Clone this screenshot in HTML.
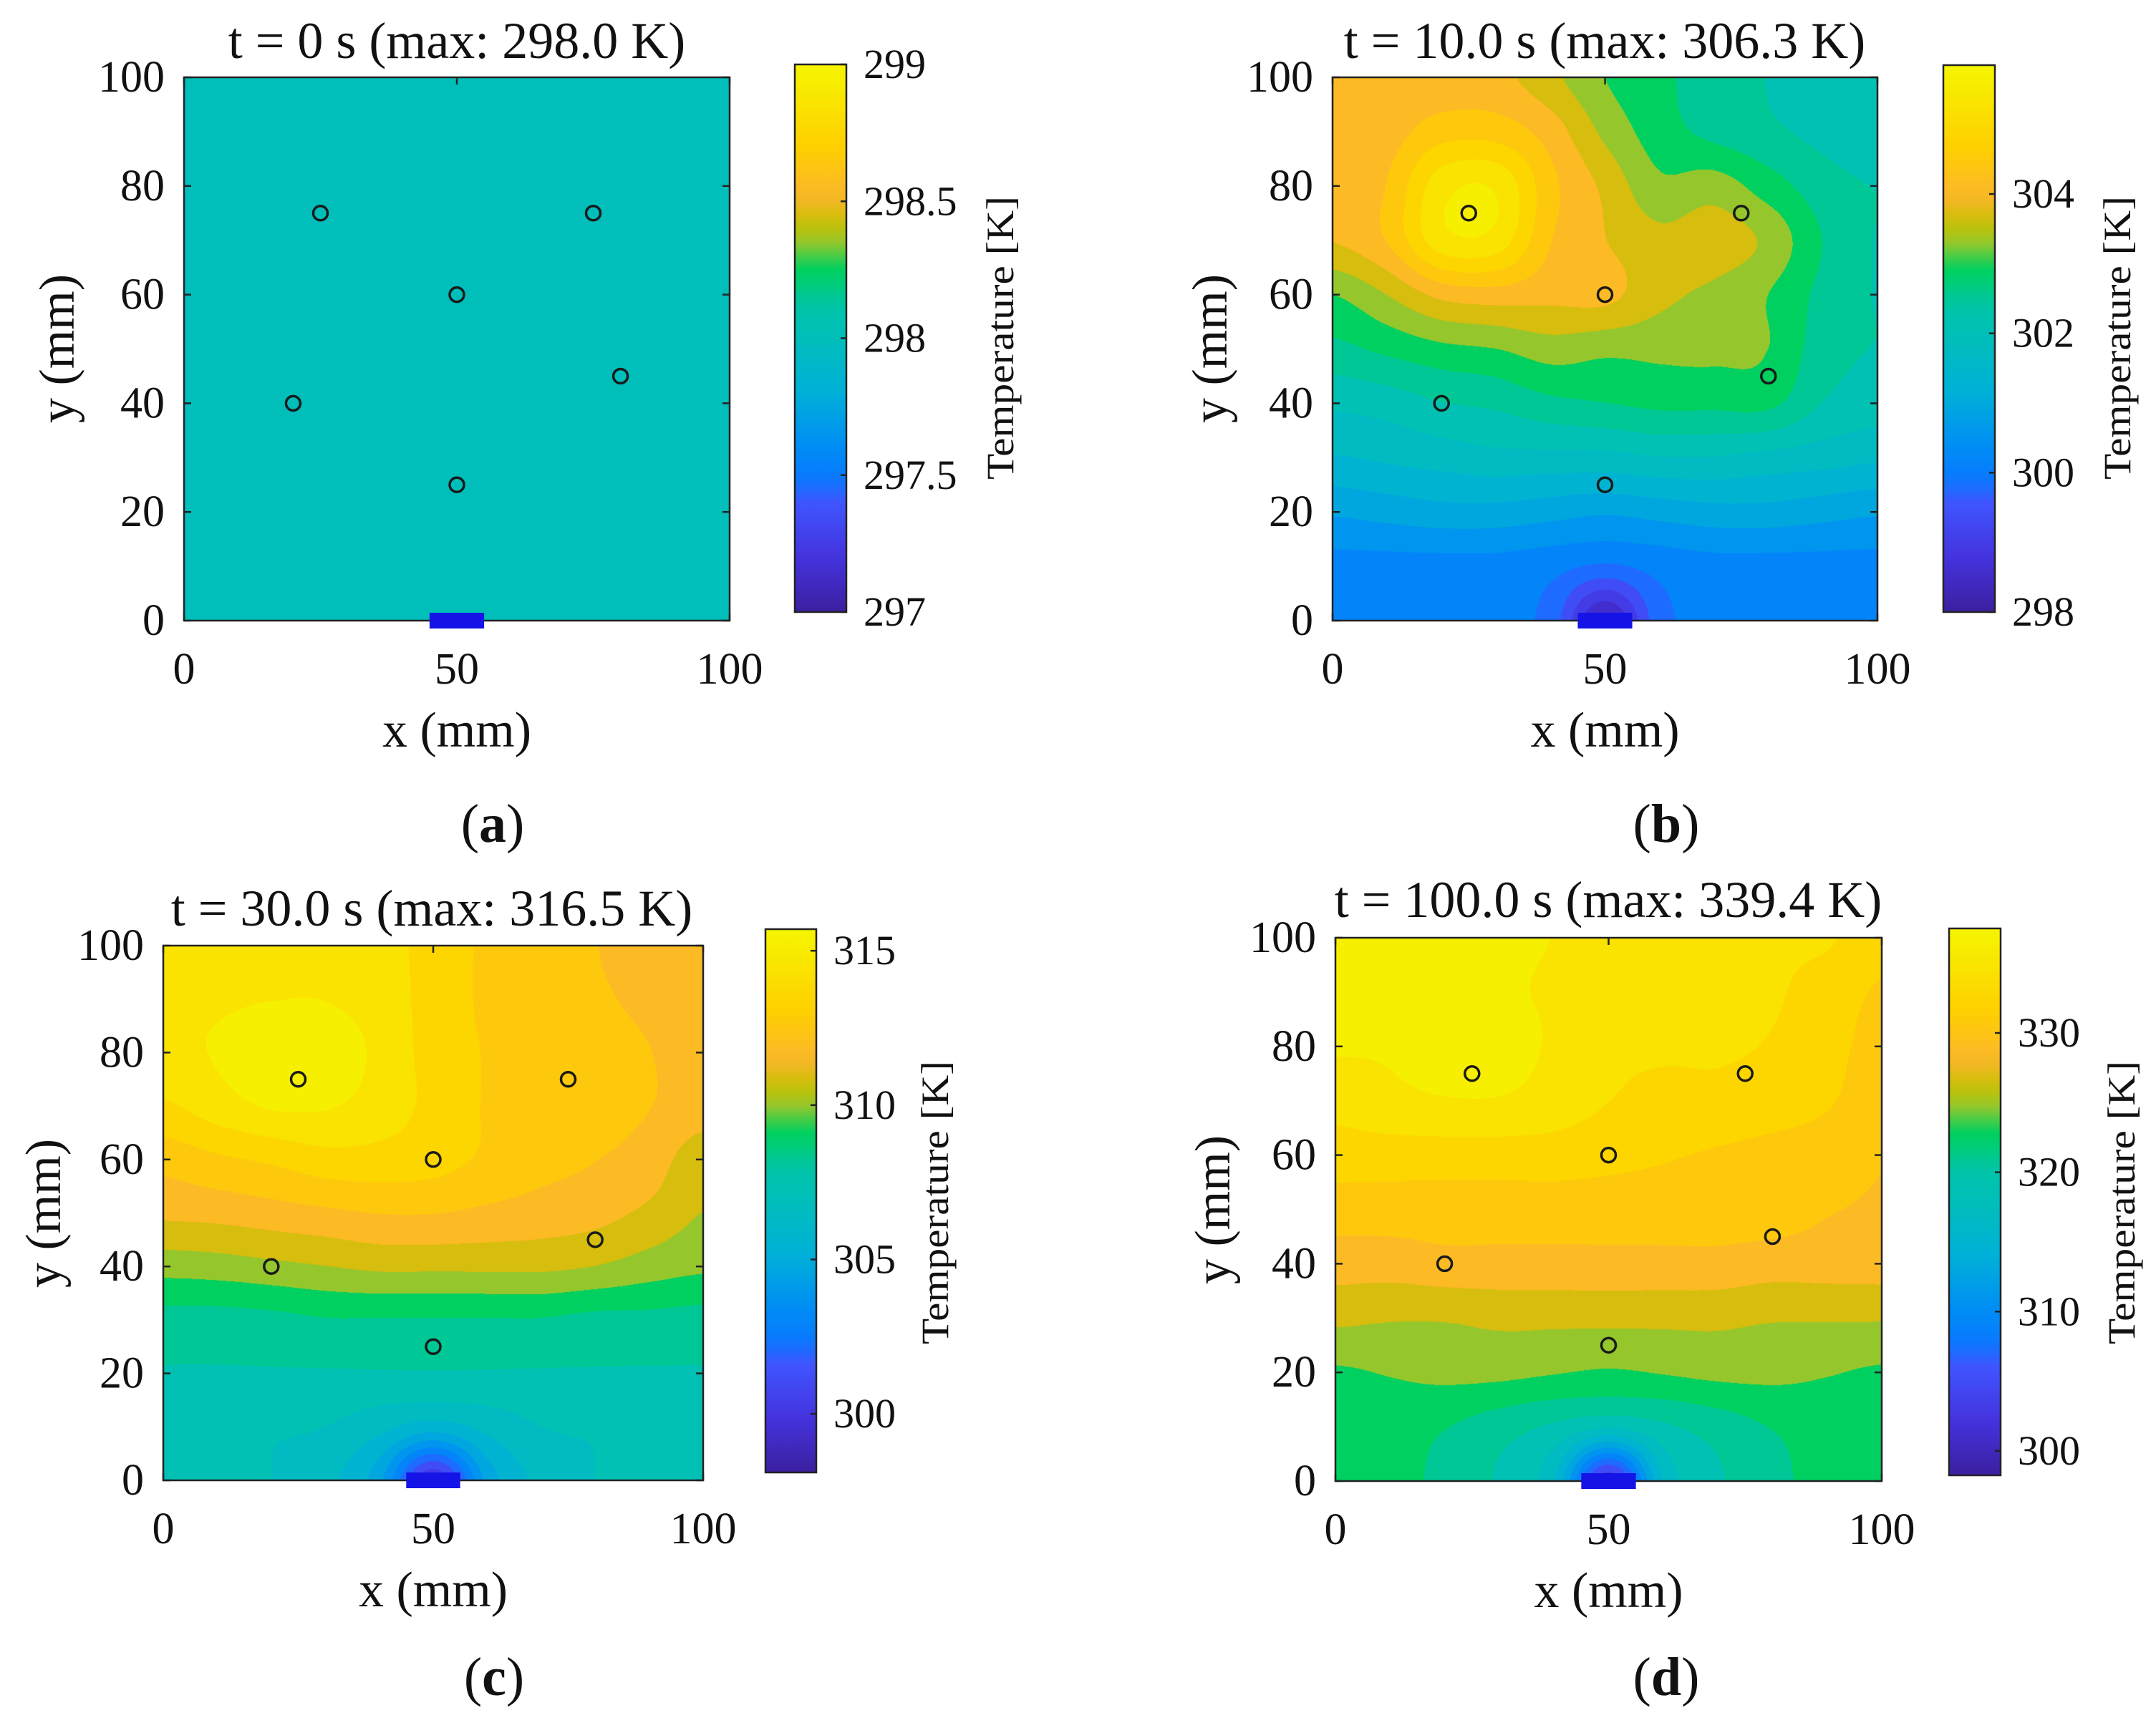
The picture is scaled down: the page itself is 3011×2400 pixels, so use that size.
<!DOCTYPE html>
<html><head><meta charset="utf-8">
<style>
html,body{margin:0;padding:0;background:#fff;}
#wrap{position:relative;width:3011px;height:2400px;overflow:hidden;background:#fff;}
canvas{position:absolute;}
svg{position:absolute;left:0;top:0;}
text{font-family:"Liberation Serif",serif;fill:#111;}
</style></head>
<body>
<div id="wrap">
<svg id="svg" width="3011" height="2400"></svg>
</div>
<script>
// ---------- data ----------
const gridX = [0,10,20,30,40,50,60,70,80,90,100];
const gridY = [100,90,80,70,60,50,40,30,20,10,0];
const sensorX = [25,75,50,80,20,50];
const sensorY = [75,75,60,45,40,25];
const xTicks = [0,50,100];
const yTicks = [0,20,40,60,80,100];

const titles = ["t = 0 s (max: 298.0 K)","t = 10.0 s (max: 306.3 K)","t = 30.0 s (max: 316.5 K)","t = 100.0 s (max: 339.4 K)"];
const panelLetters = ["a","b","c","d"];
const cbMin = [297, 298, 298.1, 298.25];
const cbMax = [299, 305.85, 315.7, 337.5];
const cbTicksA = [297,297.5,298,298.5,299];
const cbTicksB = [298,300,302,304];
const cbTicksC = [300,305,310,315];
const cbTicksD = [300,310,320,330];
const cbTickLabelsA = ["297","297.5","298","298.5","299"];

const fieldA = [
[298,298,298,298,298,298,298,298,298,298,298],
[298,298,298,298,298,298,298,298,298,298,298],
[298,298,298,298,298,298,298,298,298,298,298],
[298,298,298,298,298,298,298,298,298,298,298],
[298,298,298,298,298,298,298,298,298,298,298],
[298,298,298,298,298,298,298,298,298,298,298],
[298,298,298,298,298,298,298,298,298,298,298],
[298,298,298,298,298,298,298,298,298,298,298],
[298,298,298,298,298,298,298,298,298,298,298],
[298,298,298,298,298,298,298,298,298,298,298],
[298,298,298,298,298,298,298,298,298,298,298]];
const fieldB = [
[304.0,304.0,304.0,304.0,303.6,303.1,302.8,302.5,302.3,302.1,302.0],
[304.0,304.1,304.5,304.5,304.1,303.4,302.9,302.6,302.4,302.2,302.0],
[304.0,304.3,305.3,305.4,304.4,303.8,303.2,303.3,302.9,302.5,302.3],
[303.9,304.3,305.3,305.3,304.3,303.9,303.6,303.7,303.4,302.7,302.3],
[303.1,303.5,304.0,304.1,304.0,304.0,303.6,303.4,303.1,302.6,302.3],
[302.6,302.8,303.0,303.1,303.3,303.2,303.2,303.2,303.1,302.5,302.3],
[302.0,302.1,302.3,302.4,302.6,302.7,302.8,302.8,302.8,302.3,302.1],
[301.5,301.6,301.7,301.8,301.8,301.8,301.9,301.9,301.8,301.7,301.6],
[300.8,300.9,301.0,301.0,300.9,300.8,300.9,301.0,301.0,300.9,300.8],
[300.2,300.2,300.2,300.2,300.1,299.9,300.1,300.2,300.2,300.2,300.2],
[300.0,300.0,300.0,300.0,299.8,298.3,299.8,300.0,300.0,300.0,300.0]];
const fieldC = [
[314.6,314.6,314.6,314.6,314.3,313.6,312.9,312.5,312.2,311.8,311.8],
[314.6,314.7,314.8,314.8,314.4,313.6,312.9,312.5,312.3,312.0,311.8],
[314.5,314.9,315.4,315.4,314.6,313.6,313.0,312.7,312.5,312.2,311.8],
[313.8,314.4,314.9,314.9,314.4,313.7,313.0,313.0,312.5,312.2,311.8],
[312.5,312.9,313.2,313.6,313.6,313.4,312.9,312.5,312.2,311.8,310.7],
[311.5,311.6,311.8,312.0,312.2,312.2,312.0,311.8,311.6,311.1,310.4],
[309.9,310.0,310.2,310.4,310.6,310.6,310.6,310.6,310.4,310.0,309.7],
[308.3,308.3,308.4,308.6,308.6,308.6,308.6,308.6,308.4,308.4,308.3],
[307.7,307.7,307.7,307.7,307.7,307.7,307.7,307.7,307.7,307.7,307.7],
[307.2,307.2,307.0,306.9,306.3,305.6,306.3,306.9,307.0,307.2,307.2],
[307.0,307.0,306.9,306.3,304.5,299.8,304.5,306.3,306.9,307.0,307.0]];
const fieldD = [
[335.7,335.7,335.7,335.7,335.5,334.6,333.8,333.8,333.8,333.8,332.2],
[335.7,335.7,335.7,335.7,335.3,334.3,333.8,333.8,333.8,332.6,331.4],
[335.7,335.7,336.1,336.1,335.3,334.0,333.8,333.8,333.4,332.2,331.0],
[334.3,335.0,335.4,335.4,334.7,333.6,333.0,333.0,332.6,331.8,330.6],
[332.6,332.6,332.6,332.6,332.6,332.2,331.8,331.4,331.0,330.6,329.8],
[330.6,330.6,330.6,330.6,330.6,330.6,330.6,330.6,330.6,329.8,329.4],
[328.6,328.6,329.0,329.0,329.0,329.0,329.0,329.0,328.6,328.6,328.6],
[326.2,325.9,325.9,326.2,326.2,326.2,326.2,326.2,325.9,325.9,325.9],
[323.5,323.9,324.3,324.3,323.9,323.5,323.9,324.3,324.3,323.9,323.5],
[322.7,322.7,321.9,320.7,319.5,318.0,319.5,320.7,321.9,322.7,322.7],
[322.7,322.7,321.1,319.5,316.0,302.2,316.0,319.5,321.1,322.7,322.7]];

// ---------- layout ----------
const P = [
 {fld:fieldA, cbT:cbTicksA, cbL:cbTickLabelsA, l:257,r:1019,t:108,b:867, cl:1110,cr:1182,ct:90,cb:855, tx:638,ty:56, ylx:81,yly:487, tmx:1397,tmy:472, lx:688,ly:1152},
 {fld:fieldB, cbT:cbTicksB, cbL:null, l:1861,r:2622,t:108,b:867, cl:2714,cr:2786,ct:91,cb:855, tx:2241,ty:56, ylx:1691,yly:487, tmx:2957,tmy:472, lx:2327,ly:1152},
 {fld:fieldC, cbT:cbTicksC, cbL:null, l:228,r:982,t:1321,b:2068, cl:1069,cr:1140,ct:1298,cb:2057, tx:603,ty:1268, ylx:62,yly:1695, tmx:1306,tmy:1680, lx:690,ly:2344},
 {fld:fieldD, cbT:cbTicksD, cbL:null, l:1865,r:2628,t:1310,b:2069, cl:2722,cr:2794,ct:1297,cb:2061, tx:2246,ty:1256, ylx:1695,yly:1690, tmx:2963,tmy:1680, lx:2327,ly:2344}
];

const stops = [
 [0.00,[60,31,160]],[0.10,[68,51,221]],[0.20,[63,85,255]],[0.24,[10,120,255]],
 [0.30,[0,140,245]],[0.40,[0,176,216]],[0.50,[0,190,186]],[0.56,[0,196,168]],
 [0.60,[0,205,120]],[0.63,[0,208,90]],[0.67,[142,200,50]],[0.71,[200,192,0]],[0.76,[251,182,44]],
 [0.85,[255,208,0]],[1.00,[245,245,0]]];
function cmap(f){
  f=Math.max(0,Math.min(1,f));
  for(let i=1;i<stops.length;i++){
    if(f<=stops[i][0]){
      const a=stops[i-1],b=stops[i],u=(f-a[0])/(b[0]-a[0]);
      return [0,1,2].map(k=>Math.round(a[1][k]+(b[1][k]-a[1][k])*u));
    }
  }
  return stops[stops.length-1][1];
}
function cr(p0,p1,p2,p3,t){return 0.5*((2*p1)+(-p0+p2)*t+(2*p0-5*p1+4*p2-p3)*t*t+(-p0+3*p1-3*p2+p3)*t*t*t);}
function sample(f,xi,yi){
  const n=gridX.length, m=gridY.length;
  const c=Math.min(n-2,Math.floor(xi)), r=Math.min(m-2,Math.floor(yi));
  const tx=xi-c, ty=yi-r;
  const g=(rr,cc)=>f[Math.max(0,Math.min(m-1,rr))][Math.max(0,Math.min(n-1,cc))];
  const rows=[];
  for(let k=-1;k<=2;k++) rows.push(cr(g(r+k,c-1),g(r+k,c),g(r+k,c+1),g(r+k,c+2),tx));
  return cr(rows[0],rows[1],rows[2],rows[3],ty);
}

const NS="http://www.w3.org/2000/svg";
const svg=document.getElementById('svg');
function el(tag,attrs,parent){const e=document.createElementNS(NS,tag);for(const k in attrs)e.setAttribute(k,attrs[k]);(parent||svg).appendChild(e);return e;}
function txt(s,attrs,parent){const e=el('text',attrs,parent);e.textContent=s;return e;}

const wrap=document.getElementById('wrap');
P.forEach((p,pi)=>{
  const cmin=cbMin[pi], cmax=cbMax[pi], N=20, step=(cmax-cmin)/N;
  const W=p.r-p.l, H=p.b-p.t;
  const xs=v=>p.l+(v-0)/100*W;
  const ys=v=>p.b-(v-0)/100*H;
  const cv=document.createElement('canvas');
  cv.width=W; cv.height=H; cv.style.left=p.l+'px'; cv.style.top=p.t+'px';
  
  
  wrap.insertBefore(cv,svg);
  const ctx=cv.getContext('2d'); const img=ctx.createImageData(W,H);
  const lut=[]; for(let i=0;i<N;i++) lut.push(cmap((i+0.5)/N));
  for(let py=0;py<H;py++){
    const yv=100-(py+0.5)/H*100; const yi=(100-yv)/10;
    for(let px=0;px<W;px++){
      const xv=(px+0.5)/W*100; const xi=xv/10;
      const T=sample(p.fld,xi,yi);
      let idx=Math.floor((T-cmin)/step); idx=Math.max(0,Math.min(N-1,idx));
      const c=(pi===0)?cmap((T-cmin)/(cmax-cmin)):lut[idx], o=(py*W+px)*4;
      img.data[o]=c[0];img.data[o+1]=c[1];img.data[o+2]=c[2];img.data[o+3]=255;
    }
  }
  ctx.putImageData(img,0,0);

  const g=el('g',{});
  
  
  sensorX.forEach((sx,i)=>{
    const c=el('circle',{cx:xs(sx),cy:ys(sensorY[i]),r:10,fill:'none',stroke:'#1a1a1a','stroke-width':3.5},g);
    
    
  });
  const fr=el('rect',{x:p.l,y:p.t,width:W,height:H,fill:'none',stroke:'#222','stroke-width':2.5},g);
  
  
  yTicks.forEach(v=>{
    el('line',{x1:p.l,x2:p.l+10,y1:ys(v),y2:ys(v),stroke:'#222','stroke-width':2.5},g);
    el('line',{x1:p.r,x2:p.r-10,y1:ys(v),y2:ys(v),stroke:'#222','stroke-width':2.5},g);
    const t=txt(String(v),{x:p.l-27,y:ys(v)+20,'font-size':62,'text-anchor':'end'},g);
    
    
  });
  xTicks.forEach(v=>{
    el('line',{x1:xs(v),x2:xs(v),y1:p.b,y2:p.b-10,stroke:'#222','stroke-width':2.5},g);
    el('line',{x1:xs(v),x2:xs(v),y1:p.t,y2:p.t+10,stroke:'#222','stroke-width':2.5},g);
    const t=txt(String(v),{x:xs(v),y:p.b+88,'font-size':62,'text-anchor':'middle'},g);
    
    
  });
  const h=el('rect',{x:xs(45),y:p.b-11,width:xs(55)-xs(45),height:22,fill:'#1414e6'},g);
  
  
  const ti=txt(titles[pi],{x:p.tx,y:p.ty+25,'font-size':72,'text-anchor':'middle'},g);
  
  
  const xl=txt('x (mm)',{x:(p.l+p.r)/2,y:p.b+176,'font-size':70,'text-anchor':'middle'},g);
  
  
  const yl=txt('y (mm)',{x:0,y:0,'font-size':70,'text-anchor':'middle',transform:`translate(${p.ylx+22},${p.yly}) rotate(-90)`},g);
  
  
  const lt=el('text',{x:p.lx,y:p.ly+24,'font-size':76,'text-anchor':'middle'},g);
  lt.innerHTML='(<tspan font-weight="bold">'+panelLetters[pi]+'</tspan>)';
  
  
  const defs=el('defs',{},g);
  const gid='cbg'+pi;
  const lg=el('linearGradient',{id:gid,x1:0,y1:1,x2:0,y2:0},defs);
  for(let i=0;i<=40;i++){const c=cmap(i/40);el('stop',{offset:i/40,'stop-color':`rgb(${c[0]},${c[1]},${c[2]})`},lg);}
  const cb=el('rect',{x:p.cl,y:p.ct,width:p.cr-p.cl,height:p.cb-p.ct,fill:`url(#${gid})`,stroke:'#222','stroke-width':2.5},g);
  
  
  const cys=v=>p.cb-(v-cmin)/(cmax-cmin)*(p.cb-p.ct);
  p.cbT.forEach((v,i)=>{
    el('line',{x1:p.cr,x2:p.cr-8,y1:cys(v),y2:cys(v),stroke:'#222','stroke-width':2.5},g);
    const lab=p.cbL?p.cbL[i]:String(v);
    const t=txt(lab,{x:p.cr+24,y:cys(v)+19,'font-size':58},g);
    
    
  });
  const tm=txt('Temperature [K]',{x:0,y:0,'font-size':54,'text-anchor':'middle',textLength:396,lengthAdjust:'spacingAndGlyphs',transform:`translate(${p.tmx+18},${p.tmy}) rotate(-90)`},g);
  
  
});
</script>
</body></html>
